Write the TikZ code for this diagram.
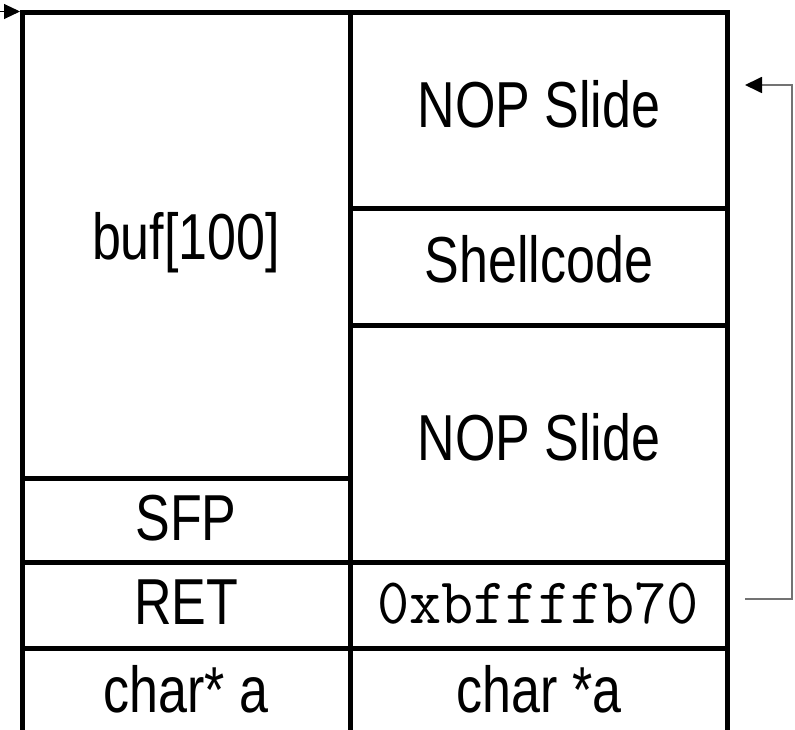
\documentclass[tikz,border=0pt]{standalone}
\usepackage{fontspec}
\setmainfont{Liberation Sans}
\usetikzlibrary{arrows.meta}
\newcommand\sqz[1]{\scalebox{0.8}[1]{#1}}
\newcommand\sqm[1]{\scalebox{0.96}[1]{#1}}
\begin{document}
\begin{tikzpicture}[x=1pt,y=-1pt,
  cell/.style={draw=black, line width=5pt, rectangle, inner sep=0pt, outer sep=0pt, anchor=north west},
  lab/.style={anchor=base, inner sep=0pt, font=\fontsize{65}{70}\selectfont},
  monolab/.style={anchor=base, inner sep=0pt, font=\fontsize{65}{70}\selectfont\ttfamily},
  ptr/.style={draw=black!55, line width=1.8pt, -{Triangle[length=17pt,width=16pt,color=black,fill=black]}},
  entry/.style={draw=black, line width=1pt, -{Triangle[length=16pt,width=15pt,color=black,fill=black]}}]
\useasboundingbox (0,0) rectangle (795,730);
\clip (0,0) rectangle (795,730);
% left column
\node[cell, minimum width=328pt, minimum height=465pt] (bufc) at (22,13) {};
\node[cell, minimum width=328pt, minimum height=84pt] (sfpc) at (22,478) {};
\node[cell, minimum width=328pt, minimum height=86pt] (retc) at (22,562) {};
\node[cell, minimum width=328pt, minimum height=110pt] (charl) at (22,648) {};
% right column
\node[cell, minimum width=377pt, minimum height=196pt] (nopa) at (350,13) {};
\node[cell, minimum width=377pt, minimum height=116pt] (shell) at (350,209) {};
\node[cell, minimum width=377pt, minimum height=237pt] (nopb) at (350,325) {};
\node[cell, minimum width=377pt, minimum height=86pt] (addr) at (350,562) {};
\node[cell, minimum width=377pt, minimum height=110pt] (charr) at (350,648) {};
% labels
\node[lab] (tbuf) at (186,259) {\sqz{buf[100]}};
\node[lab] (tsfp) at (186,540) {\sqz{SFP}};
\node[lab] (tret) at (186,624) {\sqz{RET}};
\node[lab] (tcharl) at (186,712) {\sqz{char* a}};
\node[lab] (tnopa) at (539,128) {\sqz{NOP Slide}};
\node[lab] (tshell) at (539,282) {\sqz{Shellcode}};
\node[lab] (tnopb) at (539,460) {\sqz{NOP Slide}};
\node[monolab] (taddr) at (538,623) {\sqm{0xbffffb70}};
\node[lab] (tcharr) at (539,712) {\sqz{char *a}};
% pointer arrow on the right
\coordinate (ps) at (745,599);
\coordinate (pc1) at (792,599);
\coordinate (pc2) at (792,85);
\coordinate (pe) at (745,85);
\draw[ptr] (ps) -- (pc1) -- (pc2) -- (pe);
% entry arrow top-left
\coordinate (es) at (0,11.5);
\coordinate (ee) at (20,11.5);
\draw[entry] (es) -- (ee);
\end{tikzpicture}
\end{document}
